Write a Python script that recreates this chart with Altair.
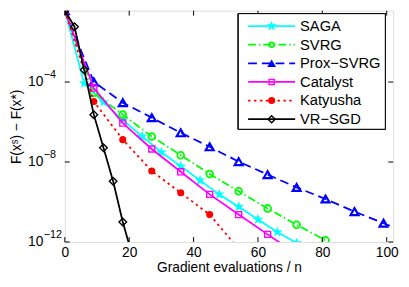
import math
import altair as alt
import pandas as pd

# ---------------- data (y given as log10 of F(x^s)-F(x*)) ----------------
series = ["SAGA", "SVRG", "Prox−SVRG", "Catalyst", "Katyusha", "VR−SGD"]

start_log = -0.43  # common starting value (top of the plot)

saga_x = [0, 6, 12, 18, 24, 30, 36, 42, 48, 54, 60, 66, 72]
saga_log = [start_log, -4.06, -5.00, -5.90, -6.72, -7.51, -8.21, -8.92, -9.62, -10.24, -10.87, -11.50, -12.05]

svrg_x = [0, 9, 18, 27, 36, 45, 54, 63, 72, 81]
svrg_log = [start_log, -4.53, -5.63, -6.72, -7.66, -8.60, -9.46, -10.32, -11.14, -11.92]

prox_x = [0, 9, 18, 27, 36, 45, 54, 63, 72, 81, 90, 99, 108]
prox_log = [start_log, -3.99, -5.03, -5.78, -6.54, -7.24, -7.98, -8.63, -9.27, -9.85, -10.48, -11.06, -11.64]

catalyst_x = [0, 9, 18, 27, 36, 45, 54, 63, 72]
catalyst_log = [start_log, -4.30, -6.05, -7.35, -8.49, -9.62, -10.63, -11.62, -12.60]

katyusha_x = [0, 9, 18, 27, 36, 45, 54]
katyusha_log = [start_log, -4.97, -6.88, -8.45, -9.54, -10.63, -12.35]

vrsgd_x = [0, 3, 6, 9, 12, 15, 18, 21]
vrsgd_log = [start_log, -1.23, -3.39, -5.63, -7.29, -8.96, -11.00, -12.70]

x_ticks = [0, 20, 40, 60, 80, 100]
y_ticks = [1e-4, 1e-8, 1e-12]
y_tick_base = ["10", "10", "10"]
y_tick_exp = ["−4", "−8", "−12"]
x_domain = [0, 102]
y_domain = [1e-12, 10 ** start_log]

x_title = "Gradient evaluations / n"
y_title = "F(xˢ) − F(x*)"

# ---------------- build tables ----------------
xs_all = [saga_x, svrg_x, prox_x, catalyst_x, katyusha_x, vrsgd_x]
ls_all = [saga_log, svrg_log, prox_log, catalyst_log, katyusha_log, vrsgd_log]
rows = []
for name, xs, ls in zip(series, xs_all, ls_all):
    for x, l in zip(xs, ls):
        rows.append({"method": name, "x": x, "y": 10 ** l})
df = pd.DataFrame(rows)

legend_df = pd.DataFrame({"method": series, "idx": list(range(len(series)))})
xt_df = pd.DataFrame({"x": x_ticks})
yt_df = pd.DataFrame({"y": y_ticks, "base": y_tick_base, "exp": y_tick_exp})

# ---------------- style ----------------
FONT = "Liberation Sans"
W, H = 335, 236
TOTAL_H = 270


def star_path(r_in=0.4):
    pts = []
    for k in range(10):
        a = math.radians(-90 + 36 * k)
        r = 1.0 if k % 2 == 0 else r_in
        pts.append(f"{r * math.cos(a):.3f},{r * math.sin(a):.3f}")
    return "M" + "L".join(pts) + "Z"


STAR = star_path()

styles = {
    "SAGA": dict(color="#00FFFF", dash=None, shape=STAR, size=130, filled=True, msw=1,
                 lsize=130, lfilled=True),
    "SVRG": dict(color="#00FF00", dash=[8, 3, 1.5, 3], shape="circle", size=48, filled=False, msw=1.8,
                 lsize=24, lfilled=False),
    "Prox−SVRG": dict(color="#0000FF", dash=[9, 5], shape="triangle-up", size=66, filled=False, msw=2.2,
                      lsize=80, lfilled=True),
    "Catalyst": dict(color="#FF00FF", dash=None, shape="square", size=38, filled=False, msw=1.4,
                     lsize=28, lfilled=False),
    "Katyusha": dict(color="#FF0000", dash=[2.5, 3.5], shape="circle", size=52, filled=True, msw=1,
                     lsize=52, lfilled=True),
    "VR−SGD": dict(color="#000000", dash=None, shape="diamond", size=60, filled=False, msw=1.4,
                   lsize=52, lfilled=False),
}

x_axis = alt.Axis(values=x_ticks, title=x_title, ticks=False, domain=False, grid=False,
                  labelFont=FONT, labelFontSize=14, labelColor="black", labelPadding=4,
                  labelFlush=False, labelOverlap=False,
                  titleFont=FONT, titleFontSize=14, titleFontWeight="normal", titleColor="black",
                  titlePadding=1)
y_axis = alt.Axis(values=y_ticks, labels=False, title=y_title, ticks=False, domain=False,
                  grid=False, titleFont=FONT, titleFontSize=14, titleFontWeight="normal",
                  titleColor="black", titleX=-42, titleY=H / 2, titleAngle=270,
                  titleBaseline="bottom", titleAlign="center")

x_scale = alt.Scale(domain=x_domain, nice=False, zero=False)
y_scale = alt.Scale(type="log", domain=y_domain, nice=False)

base = alt.Chart(df)
layers = []
for name in series:
    st = styles[name]
    sub = base.transform_filter(alt.datum.method == name)
    enc = dict(x=alt.X("x:Q", scale=x_scale, axis=x_axis), y=alt.Y("y:Q", scale=y_scale, axis=y_axis))
    line_kw = dict(color=st["color"], strokeWidth=1.8, clip=True)
    if st["dash"]:
        line_kw["strokeDash"] = st["dash"]
    layers.append(sub.mark_line(**line_kw).encode(**enc))
    pt_kw = dict(shape=st["shape"], size=st["size"], filled=st["filled"], color=st["color"],
                 strokeWidth=st["msw"], opacity=1, clip=True)
    layers.append(sub.mark_point(**pt_kw).encode(**enc))

# inward tick marks on all four sides
tick_len = 5
tx_enc = alt.X("x:Q", scale=x_scale, axis=x_axis)
ty_enc = alt.Y("y:Q", scale=y_scale, axis=y_axis)
layers.append(alt.Chart(xt_df).mark_rule(color="black", strokeWidth=1).encode(
    x=tx_enc, y=alt.value(H), y2=alt.value(H - tick_len)))
layers.append(alt.Chart(xt_df).mark_rule(color="black", strokeWidth=1).encode(
    x=tx_enc, y=alt.value(0), y2=alt.value(tick_len)))
layers.append(alt.Chart(yt_df).mark_rule(color="black", strokeWidth=1).encode(
    y=ty_enc, x=alt.value(0), x2=alt.value(tick_len)))
layers.append(alt.Chart(yt_df).mark_rule(color="black", strokeWidth=1).encode(
    y=ty_enc, x=alt.value(W), x2=alt.value(W - tick_len)))

# y tick labels as 10 with a raised exponent
JX = -22
layers.append(alt.Chart(yt_df).mark_text(align="right", baseline="middle", font=FONT, fontSize=14,
                                         color="black").encode(
    y=ty_enc, x=alt.value(JX), text="base:N"))
layers.append(alt.Chart(yt_df).mark_text(align="left", baseline="middle", font=FONT, fontSize=11,
                                         color="black", dy=-7).encode(
    y=ty_enc, x=alt.value(JX + 0.5), text="exp:N"))

# ---------------- legend (drawn manually, Matlab-style) ----------------
LX0, LX1, LY0, LROW = 177, 327, 3, 19
LY1 = LY0 + LROW * len(series) + 4
layers.append(alt.Chart(legend_df).mark_rect(fill="white", stroke="black", strokeWidth=1).encode(
    x=alt.value(LX0), x2=alt.value(LX1), y=alt.value(LY0), y2=alt.value(LY1)))

leg = alt.Chart(legend_df).transform_calculate(ly=f"{LY0 + 12.7} + {LROW} * datum.idx")
ly_enc = alt.Y("ly:Q", scale=None, axis=None)
for name in series:
    st = styles[name]
    sub = leg.transform_filter(alt.datum.method == name)
    rk = dict(color=st["color"], strokeWidth=1.8)
    if st["dash"]:
        rk["strokeDash"] = st["dash"]
    layers.append(sub.mark_rule(**rk).encode(x=alt.value(187), x2=alt.value(235), y=ly_enc))
    layers.append(sub.mark_point(shape=st["shape"], size=st["lsize"], filled=st["lfilled"],
                                 color=st["color"], strokeWidth=st["msw"], opacity=1).encode(
        x=alt.value(211), y=ly_enc))
layers.append(leg.mark_text(align="left", baseline="middle", font=FONT, fontSize=15, color="black").encode(
    x=alt.value(240), y=ly_enc, text="method:N"))

chart = alt.layer(*layers).properties(
    width=W, height=H,
    autosize=alt.AutoSizeParams(type="none"),
    padding={"left": 58, "top": 0, "right": 8, "bottom": TOTAL_H - H},
).configure_view(stroke="black", strokeWidth=1).configure(background="white")

chart.save("out.html", embed_options={"renderer": "svg", "actions": False})
